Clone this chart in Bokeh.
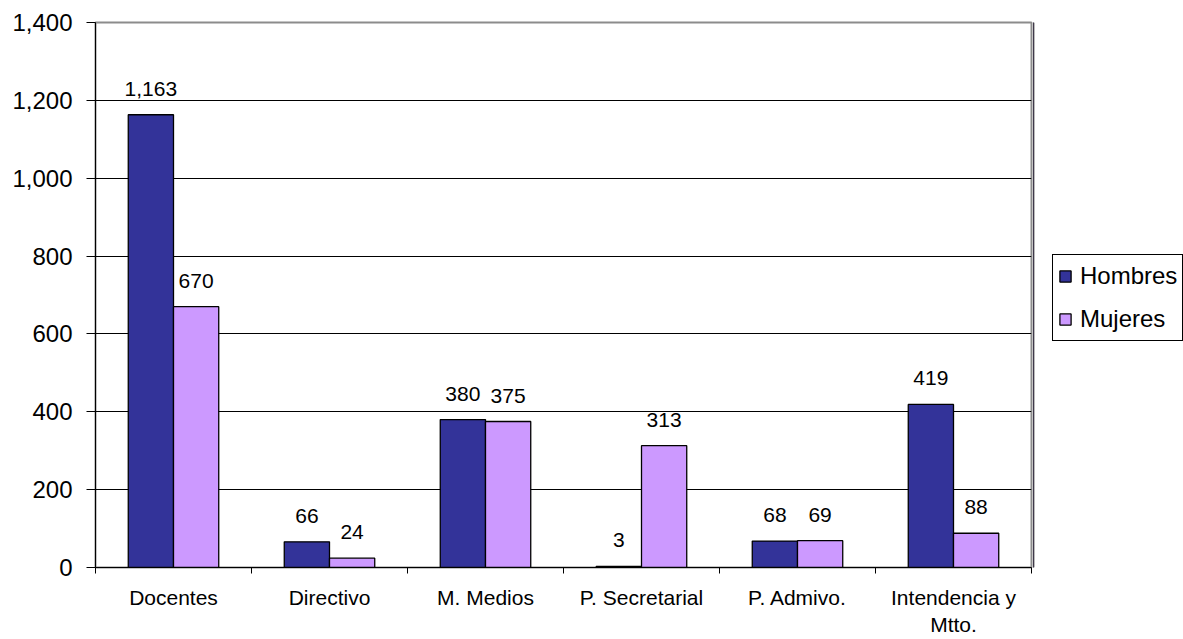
from bokeh.plotting import figure
from bokeh.layouts import row
from bokeh.models import Range1d, FixedTicker, NumeralTickFormatter, Legend, LegendItem
from bokeh.core.properties import value
from bokeh.embed import file_html
from bokeh.resources import INLINE

categories = ["Docentes", "Directivo", "M. Medios", "P. Secretarial", "P. Admivo.", "Intendencia y\nMtto."]
hombres = [1163, 66, 380, 3, 68, 419]
mujeres = [670, 24, 375, 313, 69, 88]
y_ticks = [0, 200, 400, 600, 800, 1000, 1200, 1400]
series_names = ["Hombres", "Mujeres"]
series_colors = ["#333399", "#CC99FF"]

FONT = "Liberation Sans"
BAR_W = 0.29
idx = list(range(len(categories)))
centers = [i + 0.5 for i in idx]
xh = [c - BAR_W / 2 for c in centers]
xm = [c + BAR_W / 2 for c in centers]

p = figure(width=1033, height=639, x_range=Range1d(0, len(categories)), y_range=Range1d(0, y_ticks[-1]),
           output_backend="svg", toolbar_location=None,
           min_border_left=95, min_border_right=2, min_border_top=22, min_border_bottom=72)
p.background_fill_color = "white"
p.border_fill_color = "white"
p.outline_line_color = "#8c8c8c"
p.outline_line_width = 2

# grid
p.xgrid.visible = False
p.ygrid.ticker = FixedTicker(ticks=y_ticks[1:-1])
p.ygrid.grid_line_color = "black"
p.ygrid.grid_line_width = 1

rh = p.vbar(x=xh, top=hombres, width=BAR_W, fill_color=series_colors[0], line_color="black", line_width=1.3)
rm = p.vbar(x=xm, top=mujeres, width=BAR_W, fill_color=series_colors[1], line_color="black", line_width=1.3)

for xs, vals in ((xh, hombres), (xm, mujeres)):
    p.text(x=xs, y=vals, text=[f"{v:,}" for v in vals], text_align="center", text_baseline="alphabetic",
           y_offset=-26, text_font=value(FONT), text_font_size="21px", text_color="black")

# y axis
ya = p.yaxis[0]
ya.ticker = FixedTicker(ticks=y_ticks)
ya.formatter = NumeralTickFormatter(format="0,0")
ya.major_tick_in = 0
ya.major_tick_out = 9
ya.minor_tick_line_color = None
ya.axis_line_color = "black"
ya.major_tick_line_color = "black"
ya.major_label_text_font = FONT
ya.major_label_text_font_size = "24px"
ya.major_label_text_color = "black"
ya.major_label_standoff = 14

# x axis
xa = p.xaxis[0]
xa.ticker = FixedTicker(ticks=centers, minor_ticks=list(range(len(categories) + 1)))
xa.major_label_overrides = {c: lab for c, lab in zip(centers, categories)}
xa.major_tick_line_color = None
xa.major_tick_in = 0
xa.major_tick_out = 0
xa.minor_tick_in = 0
xa.minor_tick_out = 6
xa.minor_tick_line_color = "black"
xa.axis_line_color = "black"
xa.major_label_text_font = FONT
xa.major_label_text_font_size = "21px"
xa.major_label_text_color = "black"
xa.major_label_standoff = 12

# legend panel (separate figure on the right); swatch renderers sit outside its visible range
p2 = figure(width=150, height=639, x_range=Range1d(0, 1), y_range=Range1d(0, 1),
            x_axis_type=None, y_axis_type=None, output_backend="svg", toolbar_location=None,
            min_border_left=0, min_border_right=0, min_border_top=0, min_border_bottom=0)
p2.background_fill_color = "white"
p2.border_fill_color = "white"
p2.outline_line_color = None
p2.grid.visible = False
lh = p2.vbar(x=[-10], top=[1], width=0.1, fill_color=series_colors[0], line_color="black", line_width=1.3)
lm = p2.vbar(x=[-10], top=[1], width=0.1, fill_color=series_colors[1], line_color="black", line_width=1.3)

legend = Legend(items=[LegendItem(label=series_names[0], renderers=[lh], index=0),
                       LegendItem(label=series_names[1], renderers=[lm], index=0)],
                location=(19, 226))
legend.label_text_font = FONT
legend.label_text_font_size = "24px"
legend.label_text_color = "black"
legend.glyph_width = 14
legend.glyph_height = 14
legend.label_height = 32
legend.label_standoff = 8
legend.padding = 5
legend.spacing = 11
legend.margin = 0
legend.border_line_color = "black"
legend.border_line_alpha = 1
legend.border_line_width = 1
legend.background_fill_color = "white"
legend.background_fill_alpha = 1
p2.add_layout(legend, "center")

layout = row(p, p2, spacing=0)
open("out.html", "w").write(file_html(layout, INLINE))
